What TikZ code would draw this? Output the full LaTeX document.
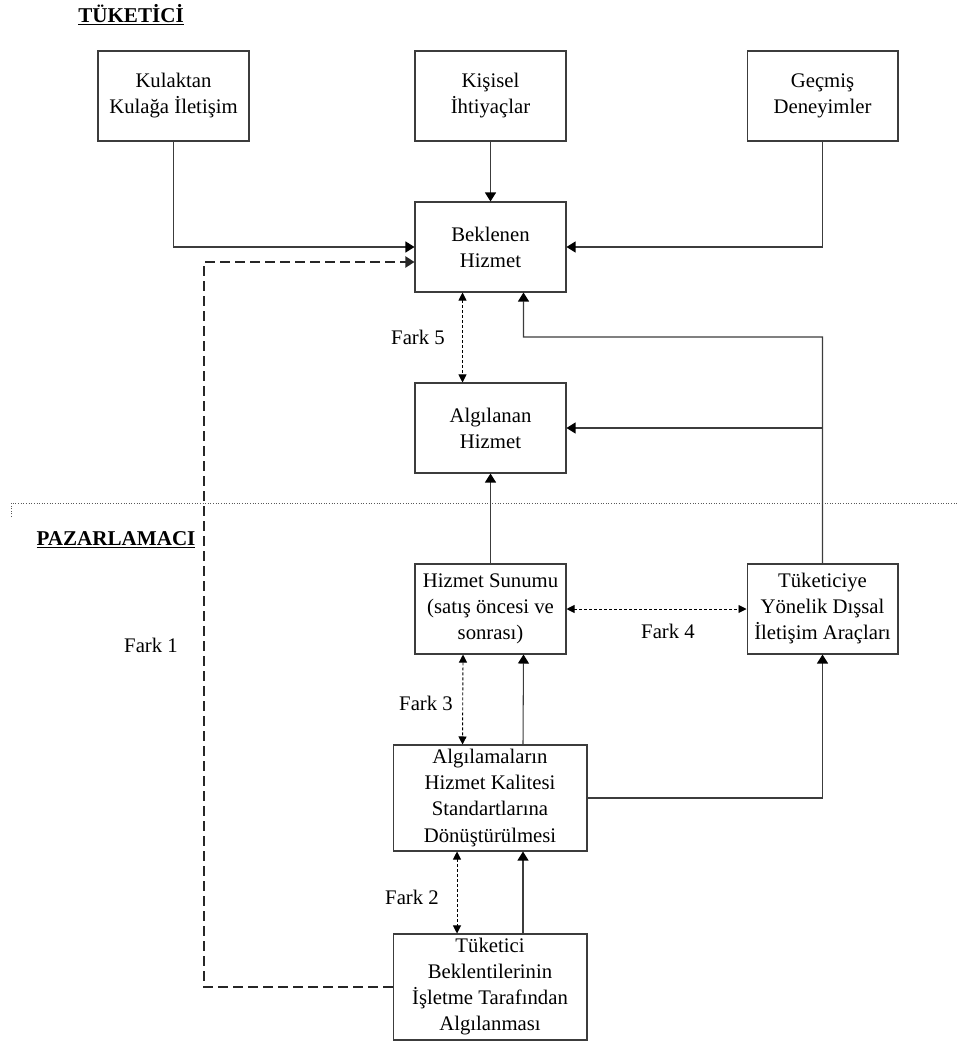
\documentclass[tikz,border=0pt]{standalone}
\usepackage{fontspec}
\setmainfont{Liberation Serif}
\usetikzlibrary{arrows.meta,positioning,calc}
\definecolor{cizgi}{RGB}{60,60,60}
\tikzset{
    kutu/.style={rectangle, draw=cizgi, line width=0.6pt, minimum width=3.02cm, minimum height=1.8cm, inner sep=0pt, align=center, font=\fontsize{11.8}{14.8}\selectfont},
    genis/.style={kutu, minimum width=3.88cm, minimum height=2.12cm},
    ok/.style={line width=0.6pt, cizgi, -{Triangle[length=1.8mm, width=2.2mm, color=black]}},
    farkok/.style={line width=0.5pt, black, dash pattern=on 0.6mm off 0.4mm, {Triangle[length=1.6mm, width=1.6mm]}-{Triangle[length=1.6mm, width=1.6mm]}},
    kesik/.style={line width=1.1pt, black!85, dash pattern=on 2mm off 1mm, -{Triangle[length=1.8mm, width=2.2mm]}},
    ayrac/.style={line width=0.5pt, black!65, densely dotted},
    etiket/.style={font=\fontsize{11.8}{14.8}\selectfont},
    baslik/.style={font=\fontsize{12}{14}\selectfont\bfseries},
}
\begin{document}
\begin{tikzpicture}[x=0.02cm, y=-0.02cm]
    \useasboundingbox (0,0) rectangle (958,1043);
    % Tuketici tarafi
    \node[baslik] (tuketici) at (131,15) {\underline{TÜKETİCİ}};
    \node[kutu] (kulak) at (173.5,96) {Kulaktan\\Kulağa İletişim};
    \node[kutu] (kisisel) at (490.5,96) {Kişisel\\İhtiyaçlar};
    \node[kutu] (gecmis) at (822.5,96) {Geçmiş\\Deneyimler};
    \node[kutu] (beklenen) at (490.5,247) {Beklenen\\Hizmet};
    \node[kutu] (algilanan) at (490.5,428) {Algılanan\\Hizmet};
    % Ayrac
    \draw[ayrac] (11,517) -- (11,503) -- (958,503);
    % Pazarlamaci tarafi
    \node[baslik] (pazarlamaci) at (116,540) {\underline{PAZARLAMACI}};
    \node[kutu] (sunum) at (490.5,609) {Hizmet Sunumu\\(satış öncesi ve\\sonrası)};
    \node[kutu] (dissal) at (822.5,609) {Tüketiciye\\Yönelik Dışsal\\İletişim Araçları};
    \node[genis] (standart) at (490,798) {Algılamaların\\Hizmet Kalitesi\\Standartlarına\\Dönüştürülmesi};
    \node[genis] (algilama) at (490,987) {Tüketici\\Beklentilerinin\\İşletme Tarafından\\Algılanması};
    % Fark etiketleri
    \node[etiket] (fark1) at (151,645) {Fark 1};
    \node[etiket] (fark2) at (412,897) {Fark 2};
    \node[etiket] (fark3) at (426,703) {Fark 3};
    \node[etiket] (fark4) at (668,631) {Fark 4};
    \node[etiket] (fark5) at (418,337) {Fark 5};
    % Oklar
    \draw[ok] (kulak.south) |- (beklenen.west);
    \draw[ok] (kisisel) -- (beklenen);
    \draw[ok] (gecmis.south) |- (beklenen.east);
    \draw[farkok] ([xshift=-0.56cm]beklenen.south) -- ([xshift=-0.56cm]algilanan.north);
    \coordinate (donus) at (523.5,337);
    \draw[ok] (dissal.north) |- (donus) -- ([xshift=0.66cm]beklenen.south);
    \draw[ok] (dissal.north |- algilanan.east) -- (algilanan.east);
    \draw[ok] (sunum) -- (algilanan);
    \draw[farkok] (sunum.east) -- (dissal.west);
    \draw[farkok] ([xshift=-0.55cm]sunum.south) -- ([xshift=-0.55cm]standart.north);
    \draw[ok] ([xshift=0.66cm]standart.north) -- ([xshift=0.66cm]sunum.south);
    \draw[ok] (standart.east) -| (dissal.south);
    \draw[farkok] ([xshift=-0.66cm]standart.south) -- ([xshift=-0.66cm]algilama.north);
    \draw[ok] ([xshift=0.66cm]algilama.north) -- ([xshift=0.66cm]standart.south);
    \coordinate (k1) at (204,262);
    \draw[kesik] (algilama.west) -| (k1) -- (k1 -| beklenen.west);
\end{tikzpicture}
\end{document}
